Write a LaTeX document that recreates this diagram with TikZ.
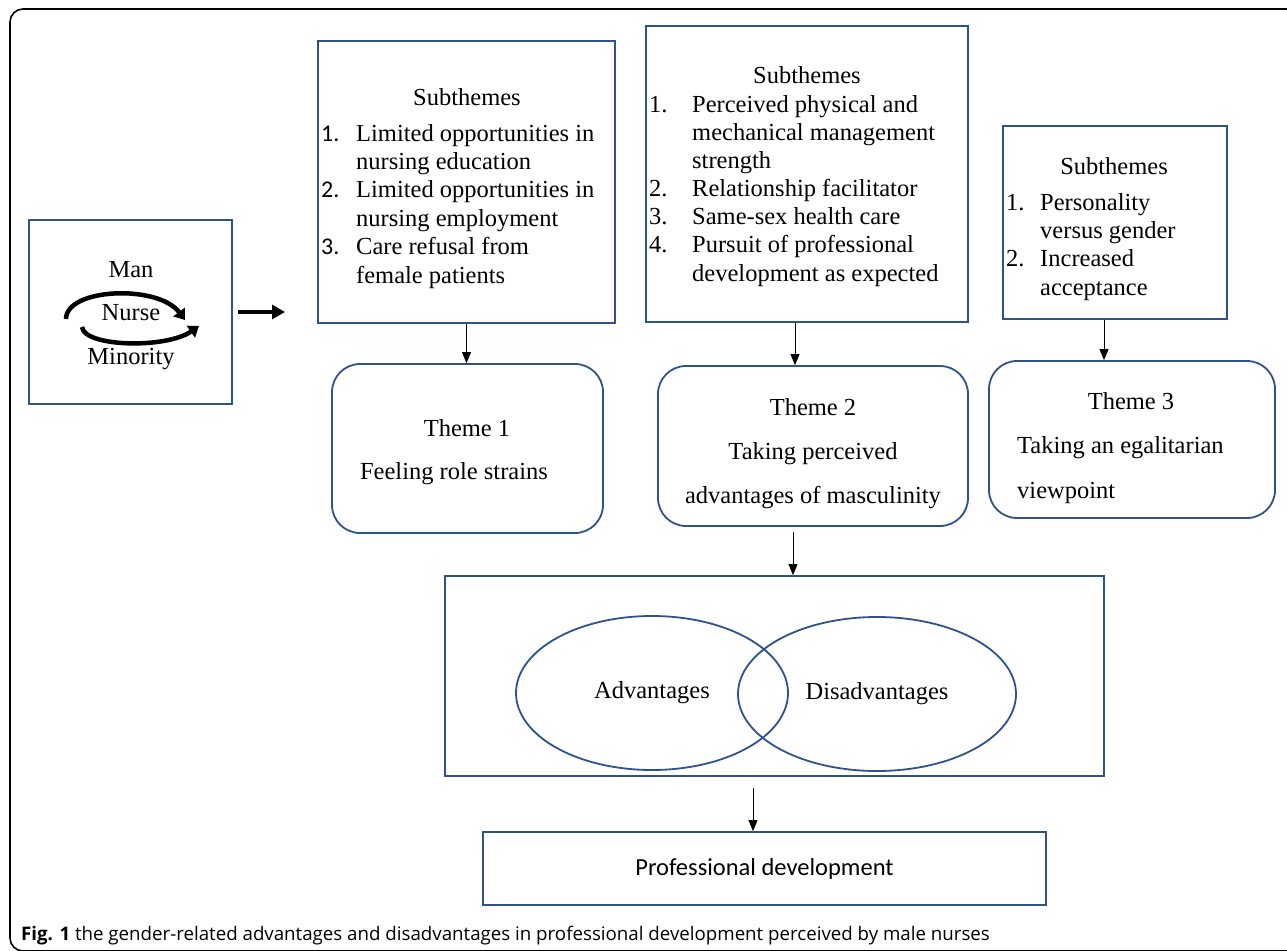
\documentclass[tikz,border=0pt]{standalone}
\usepackage{fontspec}
\setmainfont{Liberation Serif}
\newfontfamily\calfont{Carlito}
\newfontfamily\capfont{Open Sans}
\usetikzlibrary{arrows.meta,shapes.geometric}
\definecolor{nblue}{RGB}{47,82,143}
\newcommand{\tnr}{\fontsize{24.5}{28}\selectfont}
\tikzset{
  sq/.style={draw=nblue, line width=1.8pt, rectangle, inner sep=0pt},
  rbox/.style={sq, rounded corners=28pt},
  oval/.style={draw=nblue, line width=1.8pt, ellipse, inner sep=0pt, font=\tnr},
  txt/.style={anchor=base west, inner sep=0pt, font=\tnr},
  ctxt/.style={anchor=base, inner sep=0pt, font=\tnr},
  numc/.style={anchor=base west, inner sep=0pt, font=\calfont\fontsize{24}{28}\selectfont},
  arr/.style={-{Triangle[length=11pt,width=9pt]}, line width=0.9pt},
  bigarr/.style={-{Triangle[length=13pt,width=14pt]}, line width=4pt},
  cyc/.style={-{Triangle[length=10pt,width=14pt]}, line width=4.5pt},
}
\begin{document}
\begin{tikzpicture}[x=1pt,y=-1pt]
\useasboundingbox (0,0) rectangle (1287,950);
% outer frame
\draw[line width=1.6pt, rounded corners=13pt] (10,9) rectangle (1320,951);

% left box
\node[sq, minimum width=203pt, minimum height=184pt] (lb) at (130.5,312) {};
\node[ctxt] (man) at (131,277) {Man};
\node[ctxt] (nurse) at (131,320) {Nurse};
\node[ctxt] (mino) at (131,364) {Minority};
\coordinate (c1s) at (66,319);
\coordinate (c1e) at (185,320);
\coordinate (c2s) at (82,327);
\coordinate (c2e) at (199,326);
\draw[cyc] (c1s) .. controls (66,288) and (158,284) .. (c1e);
\draw[cyc] (c2s) .. controls (84,347) and (166,349) .. (c2e);
\coordinate (tip) at (285,312);
\draw[bigarr] ([xshift=5pt]lb.east) -- (tip);

% subtheme boxes
\node[sq, minimum width=297pt, minimum height=282pt] (s1) at (466.5,182) {};
\node[sq, minimum width=322pt, minimum height=296pt] (s2) at (807,174) {};
\node[sq, minimum width=224pt, minimum height=193pt] (s3) at (1115,222.5) {};

% box 1 text
\node[ctxt] (s1h) at (467,105) {Subthemes};
\node[numc] (s1n1) at (321,141) {1.};
\node[numc] (s1n2) at (321,197) {2.};
\node[numc] (s1n3) at (321,254) {3.};
\foreach \yy/\tt [count=\i] in {141/Limited opportunities in,169/nursing education,197/Limited opportunities in,226/nursing employment,254/Care refusal from,283/female patients}
  \node[txt] (s1t\i) at (356,\yy) {\tt};

% box 2 text
\node[ctxt] (s2h) at (807,84) {Subthemes};
\foreach \yy/\nn [count=\i] in {112/1.,196/2.,224/3.,252/4.}
  \node[txt] (s2n\i) at (649,\yy) {\nn};
\foreach \yy/\tt [count=\i] in {112/Perceived physical and,140/mechanical management,168/strength,196/Relationship facilitator,224/Same-sex health care,252/Pursuit of professional,281/development as expected}
  \node[txt] (s2t\i) at (692,\yy) {\tt};

% box 3 text
\node[ctxt] (s3h) at (1114,174) {Subthemes};
\node[txt] (s3n1) at (1006,210) {1.};
\node[txt] (s3n2) at (1006,266) {2.};
\foreach \yy/\tt [count=\i] in {210/Personality,238/versus gender,266/Increased,295/acceptance}
  \node[txt] (s3t\i) at (1040,\yy) {\tt};

% theme boxes
\node[rbox, minimum width=271pt, minimum height=169pt] (t1) at (467.5,448.5) {};
\node[rbox, minimum width=310pt, minimum height=160pt] (t2) at (813,446) {};
\node[rbox, minimum width=286pt, minimum height=157pt] (t3) at (1132,439.5) {};
\node[ctxt] (t1a) at (467,436) {Theme 1};
\node[ctxt] (t1b) at (454,479) {Feeling role strains};
\node[ctxt] (t2a) at (813,415) {Theme 2};
\node[ctxt] (t2b) at (813,459) {Taking perceived};
\node[ctxt] (t2c) at (813,503) {advantages of masculinity};
\node[ctxt] (t3a) at (1131,409) {Theme 3};
\node[txt] (t3b) at (1017,453) {Taking an egalitarian};
\node[txt] (t3c) at (1017,498) {viewpoint};

\draw[arr] (s1.south) -- (s1.south |- t1.north);
\draw[arr] ([xshift=-12pt]s2.south) -- ([xshift=-12pt]s2.south |- t2.north);
\draw[arr] ([xshift=-11pt]s3.south) -- ([xshift=-11pt]s3.south |- t3.north);

% big box with ellipses
\node[sq, minimum width=659pt, minimum height=200pt] (big) at (774.5,676) {};
\node[oval, minimum width=272pt, minimum height=154pt] (adv) at (652,693) {Advantages};
\node[oval, minimum width=278pt, minimum height=154pt] (dis) at (877,694) {Disadvantages};
\draw[arr, shorten <=5pt] ([xshift=-20pt]t2.south) -- ([xshift=-20pt]t2.south |- big.north);

% professional development
\node[sq, minimum width=563pt, minimum height=73pt, font=\calfont\fontsize{24.5}{28}\selectfont] (pd) at (764.5,868.5) {Professional development};
\draw[arr, shorten <=11pt] ([xshift=-21.5pt]big.south) -- ([xshift=-21.5pt]big.south |- pd.north);

% caption
\node[anchor=base west, inner sep=0pt, font=\capfont\fontsize{18.7}{22}\selectfont] (cap) at (21,940) {\textbf{Fig. 1} the gender-related advantages and disadvantages in professional development perceived by male nurses};
\end{tikzpicture}
\end{document}
